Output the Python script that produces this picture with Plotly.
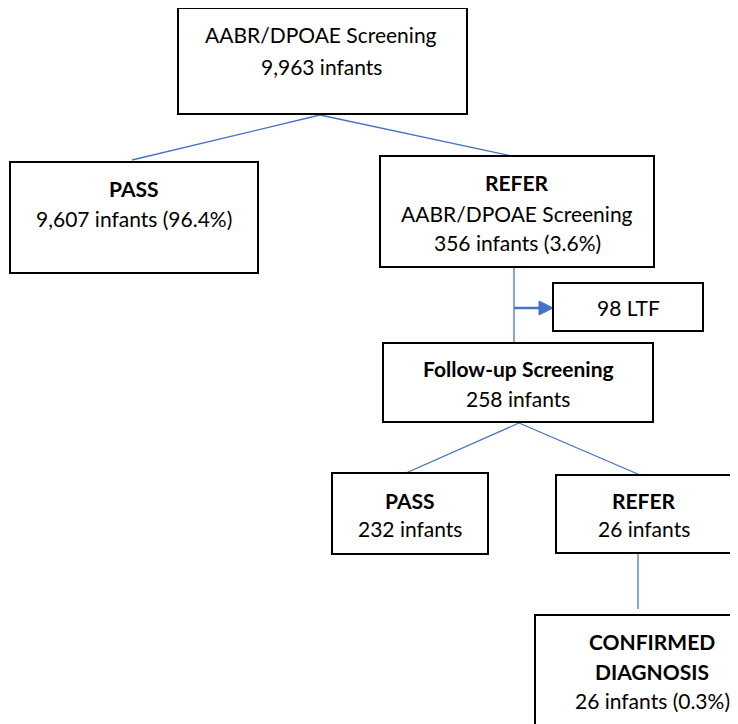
import plotly.graph_objects as go

# ---- data (text content of the flowchart) ----
node_ids = ["screen", "pass1", "refer1", "ltf", "follow", "pass2", "refer2", "confirmed"]
node_titles = ["", "PASS", "REFER", "", "Follow-up Screening", "PASS", "REFER", "CONFIRMED<br>DIAGNOSIS"]
node_lines = [
    ["AABR/DPOAE Screening", "9,963 infants"],
    ["9,607 infants (96.4%)"],
    ["AABR/DPOAE Screening", "356 infants (3.6%)"],
    ["98 LTF"],
    ["258 infants"],
    ["232 infants"],
    ["26 infants"],
    ["26 infants (0.3%)"],
]

# ---- layout geometry (pixels, y downward) ----
W, H = 738, 724
OFF = 8  # page body margin
boxes = {
    "screen":    (178, 8, 467, 114),
    "pass1":     (10, 162, 258, 273),
    "refer1":    (380, 156, 654, 267),
    "ltf":       (553, 283, 703, 331),
    "follow":    (383, 343, 653, 422),
    "pass2":     (332, 473, 488, 554),
    "refer2":    (556, 475, 733, 553),
    "confirmed": (535, 615, 760, 760),
}
text_x = {"screen": 321, "pass1": 134, "refer1": 517, "ltf": 628, "follow": 518,
          "pass2": 410, "refer2": 644, "confirmed": 652}
text_y = {
    "screen": [34, 66],
    "pass1": [188, 218],
    "refer1": [182, 213, 242],
    "ltf": [307],
    "follow": [368, 398],
    "pass2": [500, 528],
    "refer2": [500, 528],
    "confirmed": [641, 671, 700],
}
connectors = [
    ((320, 115), (132, 160)),
    ((320, 115), (512, 156)),
    ((519, 423), (406, 473)),
    ((519, 423), (640, 475)),
]
verticals = [
    ((514, 267), (514, 343)),
    ((638, 554), (638, 609)),
]
arrow = ((514, 308), (553, 308))

FONT = "Lato"
FS = 21
BLUE = "#4472C4"

fig = go.Figure()
shapes = []
annotations = []

for nid in node_ids:
    x0, y0, x1, y1 = boxes[nid]
    shapes.append(dict(type="rect", x0=x0, y0=y0, x1=x1, y1=y1,
                       line=dict(color="black", width=2), fillcolor="white", layer="above"))

for (a, b) in connectors:
    shapes.append(dict(type="line", x0=a[0], y0=a[1], x1=b[0], y1=b[1],
                       line=dict(color=BLUE, width=1.3), layer="below"))
for (a, b) in verticals:
    shapes.append(dict(type="line", x0=a[0], y0=a[1], x1=b[0], y1=b[1],
                       line=dict(color="#6A8FD4", width=1.6), layer="below"))

(ax0, ay), (ax1, _) = arrow
shapes.append(dict(type="line", x0=ax0, y0=ay, x1=ax1 - 12, y1=ay,
                   line=dict(color=BLUE, width=2.5), layer="below"))
shapes.append(dict(type="path",
                   path=f"M {ax1-14} {ay-7} L {ax1} {ay} L {ax1-14} {ay+7} Z",
                   fillcolor=BLUE, line=dict(color=BLUE, width=1), layer="below"))

for i, nid in enumerate(node_ids):
    lines = []
    if node_titles[i]:
        for t in node_titles[i].split("<br>"):
            lines.append(("<b>" + t + "</b>"))
    lines += node_lines[i]
    for t, y in zip(lines, text_y[nid]):
        annotations.append(dict(x=text_x[nid], y=y, text=t, showarrow=False,
                                xanchor="center", yanchor="middle",
                                font=dict(family=FONT, size=FS, color="black")))

fig.update_layout(
    width=W, height=H,
    margin=dict(l=0, r=0, t=0, b=0),
    paper_bgcolor="white", plot_bgcolor="white",
    xaxis=dict(range=[OFF, W + OFF], visible=False, fixedrange=True),
    yaxis=dict(range=[H + OFF, OFF], visible=False, fixedrange=True),
    shapes=shapes, annotations=annotations, showlegend=False,
)
fig.write_html("out.html")
